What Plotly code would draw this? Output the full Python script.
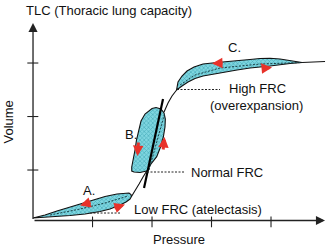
import plotly.graph_objects as go

# ---- data (pressure P, volume V in arbitrary chart units) ----
x_ticks = [1, 2, 3, 4]
y_ticks = [1, 2, 3]

loopA_P = [0, 0.202, 0.403, 0.622, 0.790, 0.992, 1.210, 1.412, 1.546, 1.613, 1.647, 1.655,
           1.630, 1.563, 1.462, 1.294, 1.126, 0.874, 0.622, 0.403, 0.202, 0]
loopA_V = [0.103, 0.159, 0.234, 0.308, 0.374, 0.439, 0.505, 0.551, 0.570, 0.570, 0.542, 0.505,
           0.458, 0.402, 0.346, 0.271, 0.224, 0.178, 0.150, 0.131, 0.112, 0.103]
midA_P = [0.286, 0.790, 1.210, 1.597]
midA_V = [0.159, 0.271, 0.383, 0.514]

loopB_P = [1.911, 1.983, 2.079, 2.143, 2.190, 2.218, 2.224, 2.202, 2.151, 2.067, 2.000, 1.966,
           1.882, 1.815, 1.773, 1.739, 1.714, 1.681, 1.659, 1.659, 1.697, 1.798, 1.911]
loopB_V = [0.981, 1.112, 1.249, 1.430, 1.617, 1.804, 1.953, 2.065, 2.140, 2.168, 2.150, 2.121,
           2.047, 1.916, 1.748, 1.561, 1.374, 1.187, 1.056, 0.981, 0.963, 0.953, 0.981]
midB_P = [1.95, 2.21]
midB_V = [1.00, 2.05]

loopC_P = [2.412, 2.437, 2.504, 2.588, 2.706, 2.857, 3.092, 3.429, 3.647, 3.815, 3.983, 4.151, 4.319, 4.521,
           4.319, 4.151, 3.983, 3.815, 3.647, 3.429, 3.143, 2.857, 2.723, 2.605, 2.504, 2.412]
loopC_V = [2.495, 2.645, 2.757, 2.850, 2.925, 2.981, 3.009, 3.037, 3.065, 3.084, 3.088, 3.075, 3.047, 3.009,
           2.991, 2.963, 2.944, 2.925, 2.907, 2.869, 2.813, 2.757, 2.710, 2.645, 2.570, 2.495]
midC_P = [2.471, 2.723, 3.143, 3.815, 4.521]
midC_V = [2.589, 2.776, 2.907, 2.981, 3.009]

curve_P = [1.655, 1.714, 1.782, 1.849, 1.911, None, 2.202, 2.269, 2.336, 2.420, None, 4.521, 4.908]
curve_V = [0.505, 0.607, 0.738, 0.869, 0.981, None, 2.084, 2.252, 2.383, 2.505, None, 3.009, 3.028]

tangent_P = [1.866, 2.185]
tangent_V = [0.664, 2.327]

# red arrows: (tail P, tail V, head P, head V)
arrows = [
    (0.992, 0.402, 0.790, 0.336),
    (1.345, 0.280, 1.546, 0.355),
    (1.773, 1.542, 1.756, 1.262),
    (2.185, 1.355, 2.210, 1.617),
    (3.210, 3.000, 3.008, 2.991),
    (3.832, 2.897, 4.017, 2.916),
]

leaders = [  # (P start, P end, V)
    (0.958, 1.479, 0.196),
    (1.916, 2.538, 0.963),
    (2.420, 3.143, 2.505),
]

labels = [  # text, P, V, xanchor
    ("A.", 0.941, 0.626, "center"),
    ("B.", 1.647, 1.673, "center"),
    ("C.", 3.378, 3.290, "center"),
    ("High FRC", 3.272, 2.527, "left"),
    ("(overexpansion)", 2.963, 2.215, "left"),
    ("Normal FRC", 2.639, 0.950, "left"),
    ("Low FRC (atelectasis)", 1.676, 0.265, "left"),
    ("TLC (Thoracic lung capacity)", -0.134, 3.991, "left"),
    ("Pressure", 2.454, -0.290, "center"),
]

axis_V = 0.056
x_end = 4.908
y_end = 3.748

FONT = "Liberation Sans, Arial, sans-serif"
pattern = dict(shape="x", bgcolor="#7fd6e0", fgcolor="#1b8a9a", size=3, solidity=0.4)

fig = go.Figure()

for P, V in [(loopA_P, loopA_V), (loopB_P, loopB_V), (loopC_P, loopC_V)]:
    fig.add_trace(go.Scatter(x=P, y=V, mode="lines", fill="toself", fillpattern=pattern,
                             line=dict(color="#111111", width=1.1), hoverinfo="skip"))

for P, V in [(midA_P, midA_V), (midB_P, midB_V), (midC_P, midC_V)]:
    fig.add_trace(go.Scatter(x=P, y=V, mode="lines",
                             line=dict(color="#1a3f45", width=1, dash="2px,1.5px"), hoverinfo="skip"))

fig.add_trace(go.Scatter(x=curve_P, y=curve_V, mode="lines",
                         line=dict(color="#111111", width=1.1), hoverinfo="skip"))
fig.add_trace(go.Scatter(x=tangent_P, y=tangent_V, mode="lines",
                         line=dict(color="#000000", width=2.2), hoverinfo="skip"))

for p0, p1, v in leaders:
    fig.add_trace(go.Scatter(x=[p0, p1], y=[v, v], mode="lines",
                             line=dict(color="#222222", width=1, dash="2px,1.5px"), hoverinfo="skip"))

# ticks
tx, ty = [], []
for t in x_ticks:
    tx += [t, t, None]
    ty += [0.13, -0.07, None]
for t in y_ticks:
    tx += [-0.096, 0.089, None]
    ty += [t, t, None]
fig.add_trace(go.Scatter(x=tx, y=ty, mode="lines", line=dict(color="#222222", width=1.1), hoverinfo="skip"))

annotations = []
# axes with arrowheads
annotations.append(dict(x=x_end, y=axis_V, ax=0, ay=axis_V, xref="x", yref="y", axref="x", ayref="y",
                        text="", showarrow=True, arrowhead=2, arrowsize=1.4, arrowwidth=1.3,
                        arrowcolor="#222222", standoff=0))
annotations.append(dict(x=0, y=y_end, ax=0, ay=axis_V, xref="x", yref="y", axref="x", ayref="y",
                        text="", showarrow=True, arrowhead=2, arrowsize=1.4, arrowwidth=1.3,
                        arrowcolor="#222222", standoff=0))
for tp, tv, hp, hv in arrows:
    annotations.append(dict(x=hp, y=hv, ax=tp, ay=tv, xref="x", yref="y", axref="x", ayref="y",
                            text="", showarrow=True, arrowhead=2, arrowsize=0.7, arrowwidth=3,
                            arrowcolor="#e8322a", standoff=0))
for text, p, v, xa in labels:
    annotations.append(dict(x=p, y=v, xref="x", yref="y", text=text, showarrow=False,
                            xanchor=xa, yanchor="middle", borderpad=0,
                            font=dict(family=FONT, size=13, color="#111111")))
annotations.append(dict(x=-0.412, y=1.897, xref="x", yref="y", text="Volume", showarrow=False,
                        textangle=-90, xanchor="center", yanchor="middle", borderpad=0,
                        font=dict(family=FONT, size=13, color="#111111")))

fig.update_layout(
    width=327, height=247, margin=dict(l=0, r=0, t=0, b=0),
    paper_bgcolor="white", plot_bgcolor="white", showlegend=False,
    xaxis=dict(range=[-0.555, 4.941], visible=False, fixedrange=True),
    yaxis=dict(range=[-0.439, 4.178], visible=False, fixedrange=True),
    annotations=annotations,
)

fig.write_html("out.html")
